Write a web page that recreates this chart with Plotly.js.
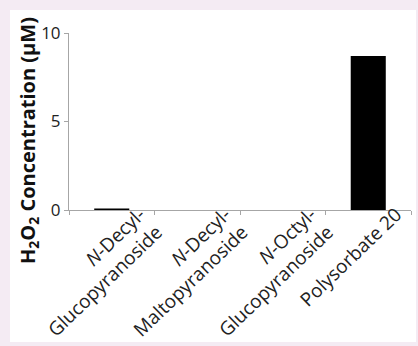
<!DOCTYPE html>
<html><head><meta charset="utf-8">
<script src="https://cdn.plot.ly/plotly-3.0.1.min.js"></script>
<style>html,body{margin:0;padding:0;background:#f4ebf3;}</style>
</head><body>
<div id="chart" style="width:418px;height:346px;"></div>
<script>
var categories = ['<i>N</i>-Decyl-<br>Glucopyranoside', '<i>N</i>-Decyl-<br>Maltopyranoside', '<i>N</i>-Octyl-<br>Glucopyranoside', 'Polysorbate 20'];
var values = [0.08, 0, 0, 8.7];
var yTicks = [0, 5, 10];

var L = 69, R = 7, T = 33, B = 136, W = 418, H = 346;
var pw = W - L - R, ph = H - T - B;
function px(x){ return (x - L) / pw; }
function py(y){ return (H - B - y) / ph; }

var trace = {
  type: 'bar', x: categories, y: values,
  marker: {color: '#000000', line: {width: 0}},
  hoverinfo: 'none'
};
var layout = {
  width: W, height: H,
  margin: {l: L, r: R, t: T, b: B, pad: 0},
  paper_bgcolor: '#f4ebf3', plot_bgcolor: '#ffffff',
  bargap: 0.59, showlegend: false,
  font: {family: 'Open Sans, sans-serif', color: '#333333'},
  xaxis: {
    type: 'category', tickangle: -44, showline: true, linecolor: '#a6a6a6', linewidth: 1,
    ticks: 'outside', tickcolor: '#a6a6a6', ticklen: 4, tickson: 'boundaries',
    ticklabelshift: 28, ticklabelstandoff: -15,
    showgrid: false, zeroline: false, tickfont: {size: 19, color: '#222222'}, automargin: false
  },
  yaxis: {
    range: [0, 10], tickvals: yTicks, showline: true, linecolor: '#a6a6a6', linewidth: 1,
    ticks: 'outside', tickcolor: '#a6a6a6', ticklen: 4, showgrid: false, zeroline: false,
    tickfont: {size: 17, color: '#222222'}, automargin: false
  },
  shapes: [{
    type: 'rect', xref: 'paper', yref: 'paper', layer: 'below',
    x0: px(10), x1: px(416), y0: py(342), y1: py(10),
    fillcolor: '#ffffff', line: {width: 0}
  }],
  annotations: [{
    xref: 'paper', yref: 'paper', x: px(28), y: py(141), textangle: -90,
    showarrow: false, xanchor: 'center', yanchor: 'middle',
    text: '<b>H<sub>2</sub>O<sub>2</sub> Concentration (μM)</b>',
    font: {size: 20, color: '#111111', family: 'Open Sans, sans-serif'}
  }]
};
Plotly.newPlot('chart', [trace], layout, {displayModeBar: false, staticPlot: true});
</script>
</body></html>
